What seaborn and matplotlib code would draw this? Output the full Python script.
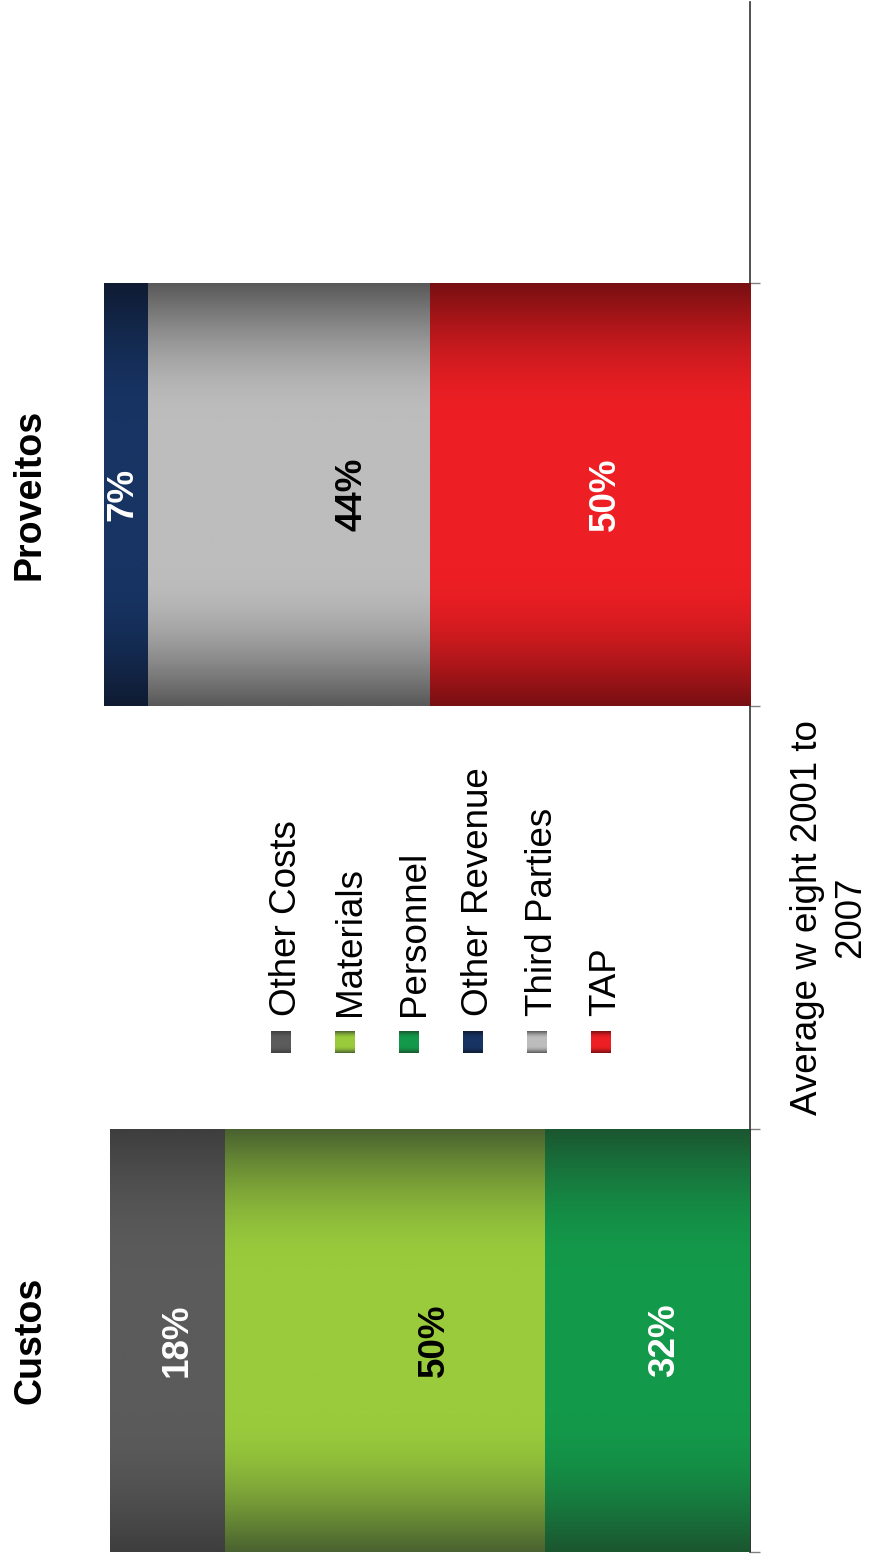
import numpy as np
import pandas as pd
import matplotlib
matplotlib.use("Agg")
import matplotlib.pyplot as plt
import matplotlib.transforms as mtransforms
from matplotlib.colors import to_rgb
import seaborn as sns

# ---- data -------------------------------------------------------------
categories = ["Custos", "Proveitos"]
slot_order = ["Custos", "gap", "Proveitos"]

# segments listed from the axis outward
cost_segments = ["Personnel", "Materials", "Other Costs"]
cost_values = [32, 50, 18]
revenue_segments = ["TAP", "Third Parties", "Other Revenue"]
revenue_values = [50, 44, 7]

legend_order = ["Other Costs", "Materials", "Personnel",
                "Other Revenue", "Third Parties", "TAP"]
axis_title = "Average w eight 2001 to\n2007"

# ---- styling ----------------------------------------------------------
mid_colors = {
    "Other Costs": "#5b5b5b",
    "Materials": "#9acb3c",
    "Personnel": "#13994a",
    "Other Revenue": "#173463",
    "Third Parties": "#bdbdbd",
    "TAP": "#ed1f24",
}
edge_colors = {
    "Other Costs": "#3e3e3e",
    "Materials": "#4a6230",
    "Personnel": "#1b5630",
    "Other Revenue": "#0f1b32",
    "Third Parties": "#595959",
    "TAP": "#780f12",
}
label_colors = {
    "Other Costs": "white", "Materials": "black", "Personnel": "white",
    "Other Revenue": "white", "Third Parties": "black", "TAP": "white",
}
# nudges of the value labels along the bar, in pixels
label_dx_px = {
    "Other Costs": 10, "Materials": 49, "Personnel": 17,
    "Other Revenue": -3, "Third Parties": 63, "TAP": 15,
}

W, H, DPI = 871, 1560, 100
PX_PER_UNIT = 6.4          # horizontal pixels per percentage point
AXIS_X = 750               # pixel column of the zero line
SLOT_PX = 423              # pixel height of one category slot

sns.set_theme(style="white")
plt.rcParams["font.family"] = ["Liberation Sans", "DejaVu Sans"]
plt.rcParams["text.color"] = "black"

fig = plt.figure(figsize=(W / DPI, H / DPI), dpi=DPI)
ax = fig.add_axes([0, 8 / H, AXIS_X / W, 1550 / H])


def gradient_column(mid, edge, n=256):
    t = np.linspace(0, 1, n)
    s = 1 - np.abs(2 * t - 1)
    mix = np.sin(np.pi / 2 * np.clip(s / 0.65, 0, 1))
    col = np.outer(1 - mix, to_rgb(edge)) + np.outer(mix, to_rgb(mid))
    return col[:, None, :]


def paint(ax, patch, name, z):
    bb = patch.get_bbox()
    im = ax.imshow(gradient_column(mid_colors[name], edge_colors[name]),
                   extent=(bb.x0, bb.x1, bb.y0, bb.y1), origin="lower",
                   aspect="auto", interpolation="bilinear", zorder=z)
    im.set_clip_path(patch)


cost_cum = np.cumsum(cost_values)
rev_cum = np.cumsum(revenue_values)

# stacked bars: draw cumulative totals from the outermost level inward
for level in [2, 1, 0]:
    segs = [cost_segments[level], revenue_segments[level]]
    df = pd.DataFrame({
        "category": categories,
        "total": [cost_cum[level], rev_cum[level]],
        "segment": segs,
    })
    n_before = len(ax.patches)
    z = 3 - level
    sns.barplot(data=df, y="category", x="total", hue="segment",
                hue_order=segs, order=slot_order,
                palette={s: mid_colors[s] for s in segs},
                dodge=False, width=1.0, orient="h", legend=False,
                linewidth=0, zorder=z, ax=ax)
    for patch in ax.patches[n_before:]:
        bb = patch.get_bbox()
        yc = 0.5 * (bb.y0 + bb.y1)
        name = segs[0] if abs(yc - 0) < 0.5 else segs[1]
        paint(ax, patch, name, z + 0.5)

# value labels
for cat_pos, segs, vals, cums in [(0, cost_segments, cost_values, cost_cum),
                                  (2, revenue_segments, revenue_values, rev_cum)]:
    for name, v, c in zip(segs, vals, cums):
        ax.annotate(f"{v}%", xy=(c - v / 2, cat_pos),
                    xytext=(label_dx_px[name] * 72 / DPI, 0),
                    textcoords="offset points", rotation=90,
                    ha="center", va="center", fontsize=26.5,
                    fontweight="bold", color=label_colors[name], zorder=10)

ax.set_xlim(AXIS_X / PX_PER_UNIT, 0)
ax.set_ylim(-0.5, -0.5 + 1550 / SLOT_PX)
ax.set_xlabel("")
ax.set_ylabel("")
ax.set_xticks([])
ax.yaxis.tick_right()
ax.set_yticks([-0.5, 0.5, 1.5, 2.5])
ax.set_yticklabels([])
ax.tick_params(axis="y", direction="out", length=7.5, width=1.0,
               color="#808080", right=True, left=False)
for side in ["top", "left", "bottom"]:
    ax.spines[side].set_visible(False)
ax.spines["right"].set_color("#333333")
ax.spines["right"].set_linewidth(1.2)

# category names and axis title
blend = mtransforms.blended_transform_factory(fig.transFigure, ax.transData)
for pos, name in [(0, "Custos"), (2, "Proveitos")]:
    fig.text(30 / W, pos, name, transform=blend, rotation=90,
             ha="center", va="center", fontsize=27, fontweight="bold",
             color="black")
fig.text(829 / W, 1, axis_title, transform=blend, rotation=90,
         ha="center", va="center", multialignment="center",
         fontsize=26.5, linespacing=1.3, color="black")

# legend
for i, name in enumerate(legend_order):
    xc = 283 + 64 * i
    sq = fig.add_axes([(xc - 12) / W, 1 - 1053 / H, 20 / W, 22 / H])
    sq.imshow(gradient_column(mid_colors[name], edge_colors[name]),
              aspect="auto", origin="lower", interpolation="bilinear")
    sq.set_axis_off()
    fig.text((xc + 3) / W, 1 - 1016 / H, name, rotation=90,
             ha="center", va="bottom", fontsize=26.5, color="black")

fig.savefig("out.png", dpi=DPI)
